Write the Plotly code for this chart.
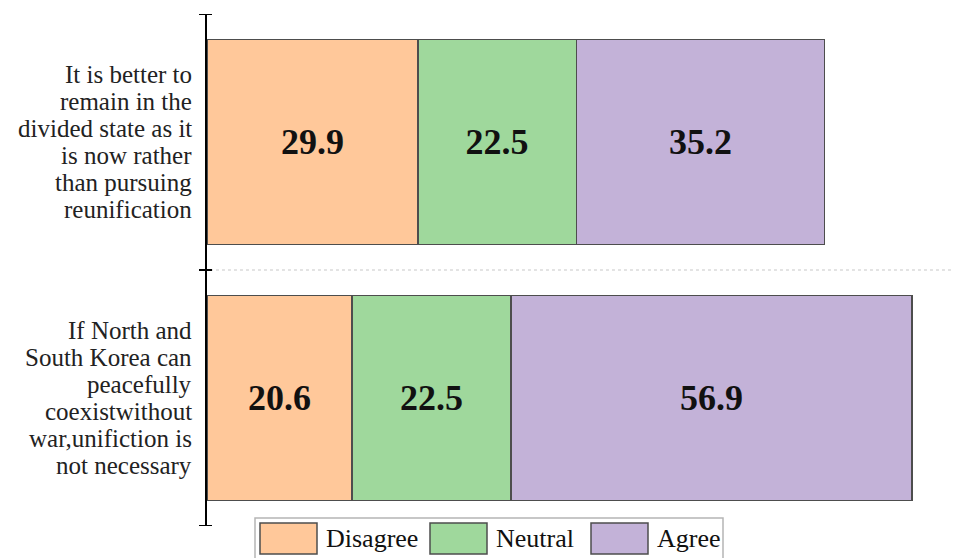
import plotly.graph_objects as go

# Survey statements (line breaks as printed beside each bar)
statements = [
    "It is better to\nremain in the\ndivided state as it\nis now rather\nthan pursuing\nreunification",
    "If North and\nSouth Korea can\npeacefully\ncoexistwithout\nwar,unifiction is\nnot necessary",
]
responses = ["Disagree", "Neutral", "Agree"]
disagree = [29.9, 20.6]
neutral = [22.5, 22.5]
agree = [35.2, 56.9]

series = [disagree, neutral, agree]
fills = ["#FFC89A", "#9FD89C", "#C3B2D8"]
outline = "#4d4d4d"
serif = "Liberation Serif, Times New Roman, serif"

W, H = 954, 558
M_L, M_R, M_T, M_B = 207, 0, 14, 32

fig = go.Figure()
for name, vals, col in zip(responses, series, fills):
    fig.add_trace(go.Bar(
        name=name,
        y=list(range(len(statements))),
        x=vals,
        orientation="h",
        marker=dict(color=col, line=dict(color=outline, width=1.5)),
        text=[f"{v:.1f}" for v in vals],
        textposition="inside",
        insidetextanchor="middle",
        textangle=0,
        textfont=dict(family=serif, size=36, color="#111", weight="bold"),
        showlegend=False,
    ))

# Statement labels, one annotation per printed line
line_gap = 27
annotations = []
for i, s in enumerate(statements):
    lines = s.split("\n")
    n = len(lines)
    for j, ln in enumerate(lines):
        annotations.append(dict(
            x=0, xref="paper", xanchor="right", xshift=-13,
            y=i, yref="y", yanchor="middle",
            yshift=((n - 1) / 2 - j) * line_gap,
            text=ln, showarrow=False,
            font=dict(family=serif, size=25, color="#222"),
        ))

# Boxed legend under the plot
pw = W - M_L - M_R
ph = H - M_T - M_B
def px_x(p):
    return (p - M_L) / pw
def px_y(p):
    return (H - M_B - p) / ph

shapes = [
    dict(type="line", xref="paper", yref="y", x0=0.004, x1=1, y0=0.5, y1=0.5,
         line=dict(color="#c8c8c8", width=1.2, dash="dot")),
    dict(type="rect", xref="paper", yref="paper",
         x0=px_x(255), x1=px_x(723), y0=px_y(518), y1=px_y(563),
         line=dict(color="#b5b5b5", width=1.5), fillcolor="rgba(0,0,0,0)"),
]
# Cross-shaped tick marks on the category boundaries
for b in [-0.5, 0.5, 1.5]:
    shapes.append(dict(type="line", xref="paper", yref="y",
                       xsizemode="pixel", xanchor=0, x0=-8, x1=5, y0=b, y1=b,
                       line=dict(color="black", width=2)))

swatch_left = [260, 430, 591]
for name, col, xl in zip(responses, fills, swatch_left):
    shapes.append(dict(type="rect", xref="paper", yref="paper",
                       x0=px_x(xl), x1=px_x(xl + 57), y0=px_y(523), y1=px_y(554),
                       line=dict(color=outline, width=1.5), fillcolor=col))
    annotations.append(dict(x=px_x(xl + 64), xref="paper", xanchor="left",
                            y=px_y(538), yref="paper", yanchor="middle",
                            text=name, showarrow=False,
                            font=dict(family=serif, size=26, color="#111")))

fig.update_layout(
    width=W, height=H,
    margin=dict(l=M_L, r=M_R, t=M_T, b=M_B, pad=0),
    barmode="stack",
    bargap=0.2,
    plot_bgcolor="white",
    paper_bgcolor="white",
    xaxis=dict(range=[0, 100 * pw / 705], visible=False, fixedrange=True),
    yaxis=dict(
        type="linear", range=[1.5, -0.5],
        showticklabels=False, ticks="",
        showline=True, linecolor="black", linewidth=2,
        showgrid=False, zeroline=False,
    ),
    shapes=shapes,
    annotations=annotations,
)

fig.write_html("out.html")
